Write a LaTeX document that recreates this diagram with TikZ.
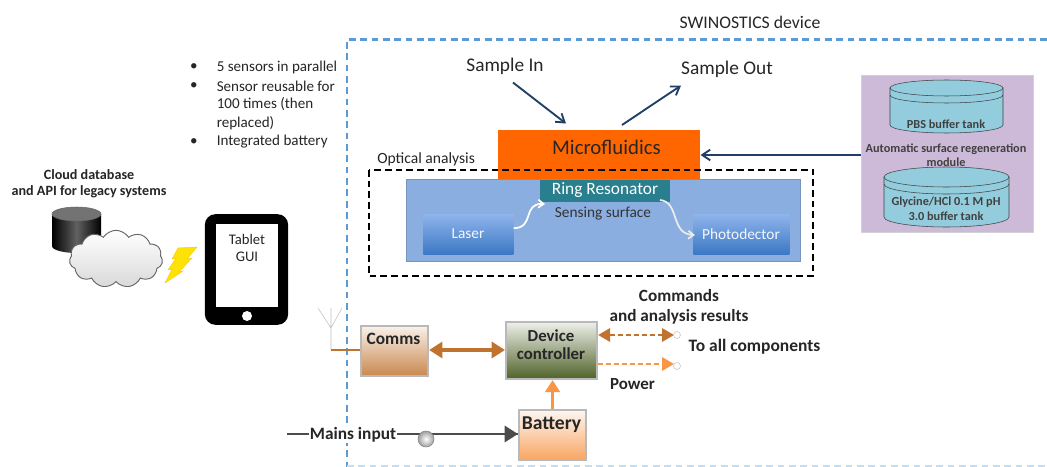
\documentclass[tikz,border=0pt]{standalone}
\usepackage{fontspec}
\setmainfont{Carlito}
\usetikzlibrary{arrows.meta,shapes.symbols,calc}
\definecolor{devblue}{HTML}{5B9BD5}
\definecolor{navy}{HTML}{1F3F66}
\definecolor{micro}{HTML}{FF6600}
\definecolor{surface}{HTML}{8AAEE0}
\definecolor{teal1}{HTML}{2A7F8E}
\definecolor{lilac}{HTML}{CDB9D8}
\definecolor{tank}{HTML}{93CDDD}
\definecolor{brownish}{HTML}{C0722F}
\definecolor{orangeish}{HTML}{F79646}
\definecolor{txt}{HTML}{262626}
\definecolor{olive}{HTML}{4F6228}
\definecolor{lasertop}{HTML}{8FB4EC}
\definecolor{laserbot}{HTML}{3B78C4}
\tikzset{
  x=0.75pt,y=-0.75pt,
  lbl/.style={text=txt,inner sep=0pt,align=center,font=\fontsize{#1}{#1}\selectfont},
  lbl/.default=10.5,
  blbl/.style={text=txt,inner sep=0pt,align=center,font=\fontsize{#1}{#1}\selectfont\bfseries},
  blbl/.default=10.5,
  pnl/.style={anchor=north west,minimum width=#1,inner sep=0pt},
  samplearrow/.style={draw=navy,line width=1.4pt,-{Straight Barb[length=6pt,width=8pt]}},
  whitearrow/.style={draw=#1,line width=1.3pt,-{Straight Barb[length=4pt,width=6pt]}},
  boxb/.style={draw=gray!55,line width=1.6pt,inner sep=0pt,align=center,text=txt},
  lasergrad/.style={top color=lasertop,bottom color=laserbot},
  tankbody/.style={draw=black!75,line width=0.4pt,fill=tank},
}
\newcommand{\tankshape}[5]{% x1 x2 ytop ybottom ry
  \fill[tank,draw=black!75,line width=0.4pt] (#1,#3) -- (#1,#4) arc[start angle=180,end angle=0,x radius={(#2-#1)/2},y radius=#5] -- (#2,#3) -- cycle;
  \draw[tankbody] ({(#1+#2)/2},#3) ellipse[x radius={(#2-#1)/2},y radius=#5];
  \draw[draw=black!75,line width=0.4pt] (#1,{#3+7}) arc[start angle=180,end angle=0,x radius={(#2-#1)/2},y radius=#5];
}
\begin{document}
\begin{tikzpicture}
\useasboundingbox (0,0) rectangle (1047,467);
\fill[white] (0,0) rectangle (1047,467);

% device boundary
\draw[devblue,line width=1.6pt,dash pattern=on 5pt off 3.5pt] (1047,39.5) -- (347,39.5) -- (347,467);
\draw[devblue!35,line width=0.8pt,dash pattern=on 5pt off 3.5pt] (347,466) -- (1047,466);
\node[lbl=13.3] (title) at (750,22) {SWINOSTICS device};

% bullets
\foreach \nm/\yy/\tx in {b1/67/5 sensors in parallel,b2/86/Sensor reusable for,b3/104.5/100 times (then,b4/123.5/replaced),b5/142/Integrated battery}
  \node[lbl=11.3,anchor=west] (\nm) at (216.5,\yy) {\tx};
\foreach \yy in {67,86,142}
  \node[lbl=11.3] at (194,\yy) {•};

% cloud group
\node[blbl=10.6] (cloudtxt) at (89,184) {Cloud database\\[1.5pt]and API for legacy systems};
\shade[left color=black,right color=black,middle color=black!62] (52,214) -- (52,246) arc[start angle=180,end angle=0,x radius=24.5,y radius=7] -- (101,214) -- cycle;
\draw[draw=black!60,fill=black!55] (76.5,214) ellipse[x radius=24.5,y radius=7];
\node[cloud,cloud puffs=11,cloud puff arc=115,aspect=1.75,draw=black!60,line width=0.7pt,
      top color=white,bottom color=black!15,minimum width=70pt,minimum height=43pt,inner sep=0pt] (cloud) at (116,259) {};
\fill[yellow!85!orange,draw=yellow!60!orange,line width=0.3pt] (178,248) -- (197,247) -- (187,259) -- (192,258) -- (179,272) -- (183,271) -- (165,283) -- (172,269) -- (168,270) -- (176,258) -- (172,259) -- cycle;

% tablet
\node[fill=black,rounded corners=8pt,minimum width=62.5pt,minimum height=83pt,inner sep=0pt] (tablet) at (246.5,269.5) {};
\fill[white] (216,224) rectangle (278,307);
\fill[white] (247,316) circle[radius=5];
\node[lbl=11] (gui) at (247,248) {Tablet\\[2pt]GUI};

% sample + microfluidics
\node[fill=micro,pnl=151.5pt,minimum height=36.75pt] (micro) at (498,130) {};
\node[lbl=15.6,text=black!85] at (606.5,147) {Microfluidics};
\node[lbl=14.5] (sin) at (505,66) {Sample In};
\node[lbl=14.5] (sout) at (727,69) {Sample Out};
\coordinate (micin) at (566,123.5);
\coordinate (micout) at (622,125);
\draw[samplearrow] ($(sin.south)+(8,8)$) -- (micin);
\draw[samplearrow] (micout) -- ($(sout.south)+(-46,8)$);

% optical
\node[lbl=11.7,anchor=west] (opt) at (377,159) {Optical analysis};
\node[fill=surface,draw=surface!85!black,line width=0.4pt,pnl=295.5pt,minimum height=61.5pt] (surf) at (406,179) {};
\fill[micro] (498,168) rectangle (700,179);
\draw[black,line width=1.2pt,dash pattern=on 5pt off 3pt] (369,170) rectangle (813,276);
\node[fill=teal1,pnl=97.5pt,minimum height=16.5pt,text=white] (ring) at (540,180) {};
\node[lbl=13,text=white] at (605,190.5) {Ring Resonator};
\node[lbl=11.5,text=black!80] (sens) at (603,214) {Sensing surface};
\node[pnl=67.5pt,minimum height=30pt,lasergrad] (laser) at (423,214) {};
\node[pnl=72pt,minimum height=30pt,lasergrad] (photo) at (693,214) {};
\node[lbl=11.5,text=white!90!surface] at (468,234) {Laser};
\node[lbl=11.5,text=white!90!surface] at (741,234) {Photodector};
\draw[whitearrow=white] (laser.east) ++(0,-6) .. controls (535,228) and (522,203) .. (545,204);
\draw[whitearrow=white!85!gray] (660,200) .. controls (680,202) and (670,234) .. (695,235);

% regeneration
\node[fill=lilac,draw=gray!35,line width=0.8pt,pnl=129pt,minimum height=117.75pt] (regen) at (861,75) {};
\tankshape{890}{1003}{88}{125}{8}
\tankshape{884}{1009}{177}{217}{10}
\node[blbl=9.2,text=black!75] at (946,124) {PBS buffer tank};
\node[blbl=9.2,text=black!75] at (946,155) {Automatic surface regeneration\\[1.5pt]module};
\node[blbl=9.2,text=black!75] at (946,209) {Glycine/HCl 0.1 M pH\\[2pt]3.0 buffer tank};
\draw[samplearrow] (regen.west |- 0,155) -- (micro.east |- 0,155);

% lower block
\node[boxb,top color=brownish!10,bottom color=brownish!85,pnl=50.25pt,minimum height=37.5pt] (comms) at (360,325) {};
\node[blbl=13] at (393.5,339) {Comms};
\node[boxb,top color=white!90!olive,bottom color=olive,pnl=68.25pt,minimum height=42.75pt] (ctrl) at (505,321) {};
\node[blbl=12.6] at (551,345) {Device\\[1pt]controller};
\node[boxb,top color=orangeish!8,bottom color=orangeish!85,pnl=50.25pt,minimum height=37.5pt] (batt) at (518,409) {};
\node[blbl=14.7] at (551.5,425) {Battery};

% antenna
\coordinate (antbase) at (331,350);
\draw[gray!50,line width=0.4pt] (331,328) -- (331,308) (331,328) -- (318,308) (331,328) -- (342,308) (331,328) -- (331,350);
\draw[brownish,line width=1.3pt] (antbase) -- (comms.west |- antbase);

\draw[draw=brownish,line width=2.4pt,{Triangle[length=10pt,width=12pt]}-{Triangle[length=10pt,width=12pt]}] (comms.east |- 0,350) -- (ctrl.west |- 0,350);

\coordinate (c1) at (674,335);
\coordinate (c2) at (674,364);
\draw[draw=brownish,line width=1.8pt,dash pattern=on 4pt off 2pt,{Triangle[length=9pt,width=10pt]}-{Triangle[length=9pt,width=10pt]}] (ctrl.east |- c1) -- (c1);
\draw[draw=orangeish,line width=1.8pt,dash pattern=on 4pt off 2pt,-{Triangle[length=9pt,width=10pt]}] (ctrl.east |- c2) -- (c2);
\draw[gray!40,fill=white,line width=0.5pt] (677,335) circle[radius=3.5];
\draw[gray!40,fill=white,line width=0.5pt] (677,366) circle[radius=3.5];

\draw[draw=orangeish,line width=2pt,-{Triangle[length=9pt,width=11pt]}] (batt.north) -- (ctrl.south -| batt.north);

\node[blbl=12.9] at (679,306.5) {Commands\\[2pt]and analysis results};
\node[blbl=13.1] (all) at (754.5,347) {To all components};
\node[blbl=12.7] (pow) at (632.5,384) {Power};

% mains
\coordinate (mstart) at (287,434);
\draw[draw=black!70,line width=2.2pt] (mstart) -- (batt.west |- mstart);
\draw[draw=black!70,line width=2.2pt,-{Triangle[length=10pt,width=12pt]}] (426,434) -- (batt.west |- mstart);
\node[blbl=13,fill=white,inner xsep=1pt,inner ysep=0.5pt] (mains) at (353,435) {Mains input};
\shade[inner color=white,outer color=gray!75,draw=gray] (426,439) circle[radius=8];
\end{tikzpicture}
\end{document}
